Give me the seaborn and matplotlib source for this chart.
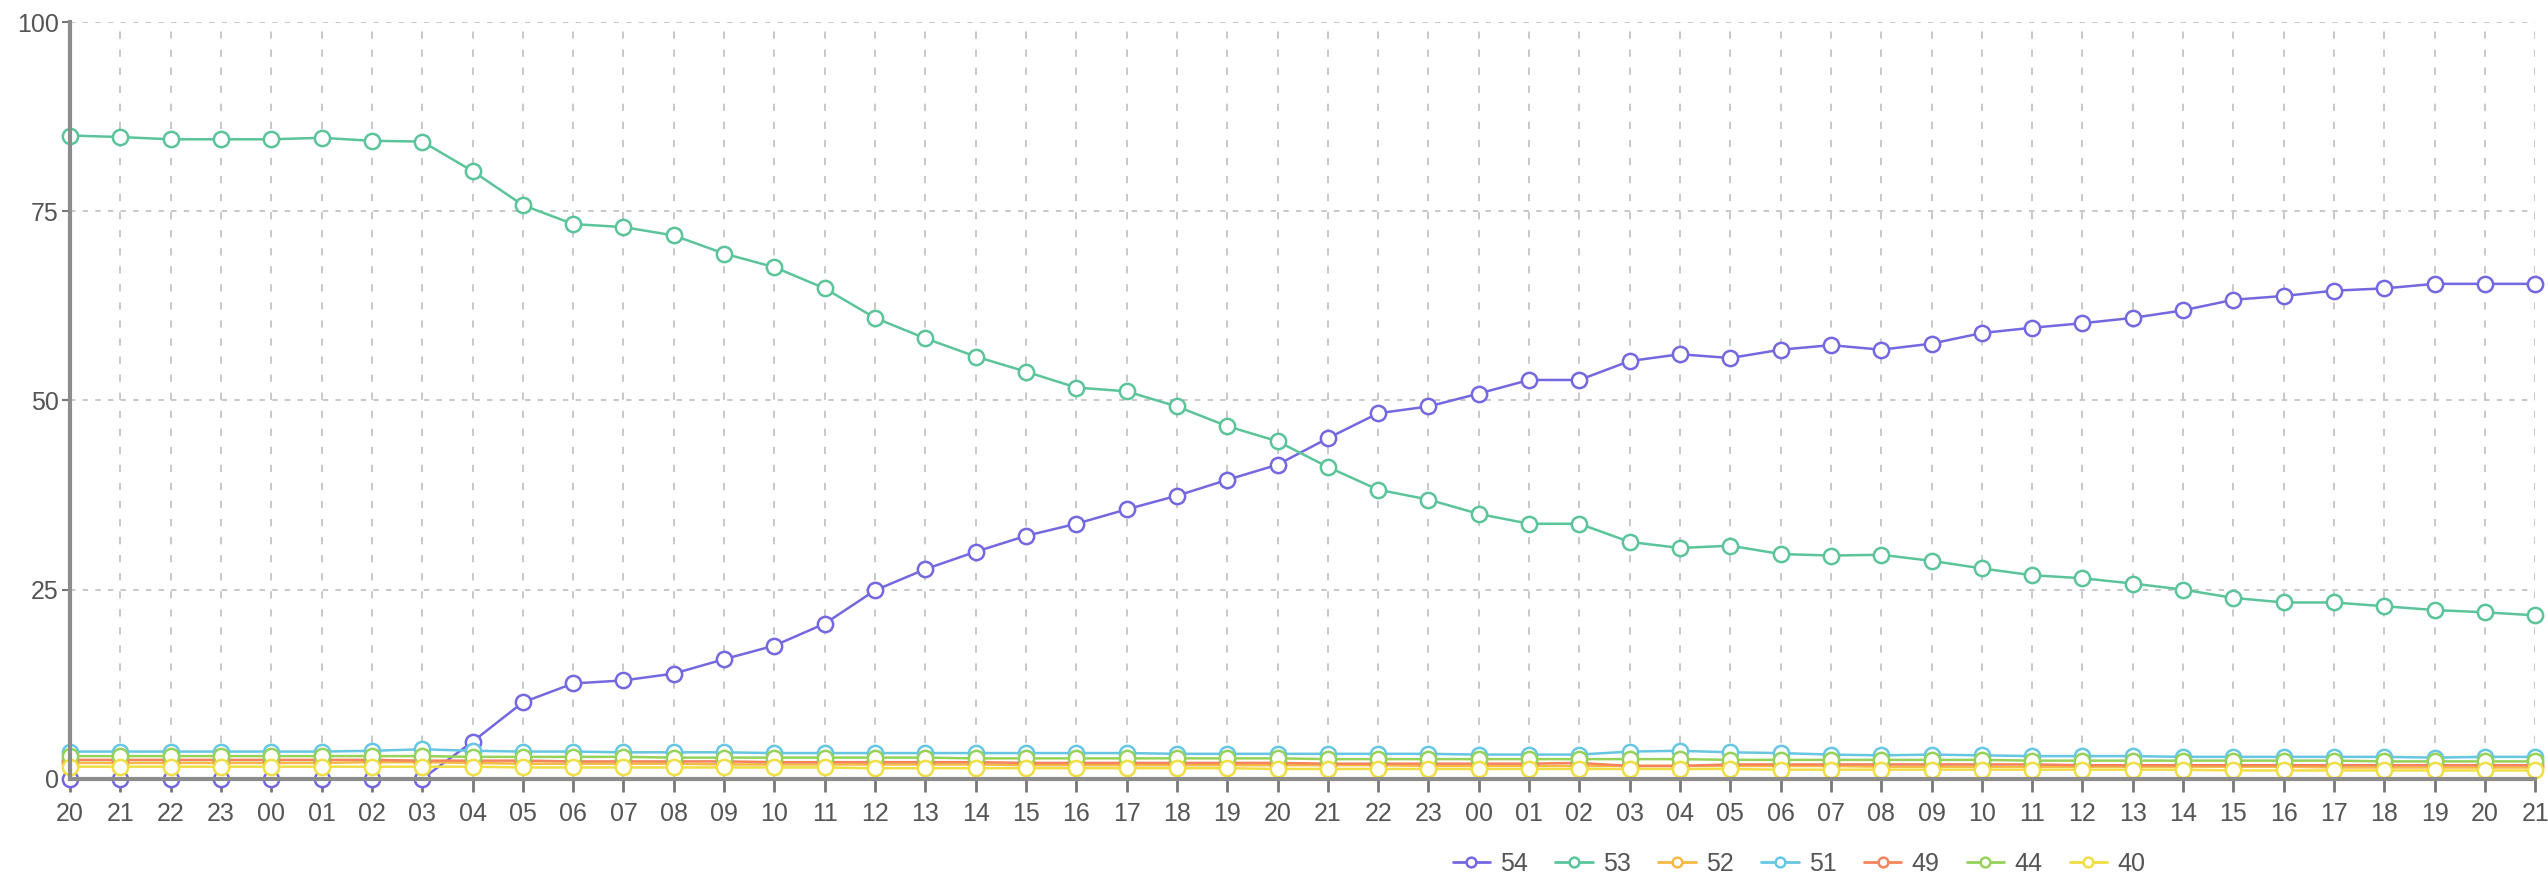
import matplotlib
matplotlib.use('Agg')
import matplotlib.pyplot as plt
from matplotlib.lines import Line2D
import seaborn as sns
import pandas as pd

# x axis: hourly samples, starting at 20h on day 1
hours = ['20', '21', '22', '23'] + ['%02d' % h for h in range(24)] + ['%02d' % h for h in range(22)]

series_names = ['54', '53', '52', '51', '49', '44', '40']
series_colors = ['#7468e0', '#5bc49b', '#f5b945', '#67c6e2', '#f5845c', '#96d25a', '#f0de45']

t54 = [0, 0, 0, 0, 0, 0, 0, 0, 4.9, 10.1, 12.6, 13.0, 13.9, 15.8, 17.6, 20.5, 24.9, 27.7, 30.0, 32.1,
       33.7, 35.6, 37.4, 39.5, 41.5, 45.0, 48.3, 49.2, 50.9, 52.7, 52.7, 55.2, 56.1, 55.6, 56.7, 57.3,
       56.7, 57.5, 58.9, 59.6, 60.2, 60.9, 61.9, 63.3, 63.8, 64.5, 64.8, 65.4, 65.4, 65.4]
t53 = [85.0, 84.8, 84.5, 84.5, 84.5, 84.7, 84.3, 84.2, 80.3, 75.8, 73.3, 72.9, 71.8, 69.4, 67.6, 64.8,
       60.9, 58.2, 55.8, 53.8, 51.7, 51.2, 49.2, 46.6, 44.6, 41.2, 38.2, 36.9, 35.0, 33.7, 33.7, 31.3,
       30.5, 30.8, 29.7, 29.5, 29.6, 28.8, 27.8, 26.9, 26.5, 25.8, 25.0, 23.9, 23.3, 23.3, 22.8, 22.3,
       22.0, 21.6]
t52 = [2.1, 2.1, 2.1, 2.1, 2.1, 2.1, 2.2, 2.2, 2.1, 2.0, 2.0, 2.0, 2.0, 1.9, 1.9, 1.9, 1.9, 1.9, 1.9,
       1.8, 1.8, 1.8, 1.8, 1.8, 1.8, 1.8, 1.8, 1.7, 1.7, 1.7, 1.7, 1.7, 1.7, 1.7, 1.7, 1.7, 1.6, 1.6,
       1.6, 1.6, 1.6, 1.6, 1.6, 1.6, 1.6, 1.5, 1.5, 1.5, 1.5, 1.5]
t51 = [3.6, 3.6, 3.6, 3.6, 3.6, 3.6, 3.7, 3.9, 3.7, 3.6, 3.6, 3.5, 3.5, 3.5, 3.4, 3.4, 3.4, 3.4, 3.4,
       3.4, 3.4, 3.4, 3.3, 3.3, 3.3, 3.3, 3.3, 3.3, 3.2, 3.2, 3.2, 3.6, 3.7, 3.5, 3.4, 3.2, 3.1, 3.2,
       3.1, 3.0, 3.0, 3.0, 2.9, 2.9, 2.9, 2.9, 2.9, 2.8, 2.9, 2.9]
t49 = [2.5, 2.5, 2.5, 2.5, 2.5, 2.5, 2.5, 2.4, 2.4, 2.4, 2.3, 2.3, 2.3, 2.3, 2.2, 2.2, 2.2, 2.2, 2.2,
       2.1, 2.1, 2.1, 2.1, 2.1, 2.1, 2.0, 2.0, 2.0, 2.0, 2.0, 2.1, 1.7, 1.7, 1.9, 1.9, 1.9, 1.9, 1.9,
       1.9, 1.9, 1.8, 1.8, 1.8, 1.8, 1.8, 1.8, 1.8, 1.8, 1.8, 1.8]
t44 = [3.0, 3.0, 3.0, 3.0, 3.0, 3.0, 3.0, 3.0, 2.9, 2.9, 2.9, 2.9, 2.8, 2.8, 2.8, 2.8, 2.8, 2.8, 2.7,
       2.7, 2.7, 2.7, 2.7, 2.7, 2.7, 2.6, 2.6, 2.6, 2.6, 2.6, 2.6, 2.6, 2.6, 2.5, 2.5, 2.5, 2.5, 2.5,
       2.5, 2.4, 2.4, 2.4, 2.4, 2.4, 2.4, 2.4, 2.3, 2.3, 2.3, 2.3]
t40 = [1.6, 1.6, 1.6, 1.6, 1.6, 1.6, 1.6, 1.6, 1.6, 1.5, 1.5, 1.5, 1.5, 1.5, 1.5, 1.5, 1.4, 1.4, 1.4,
       1.4, 1.4, 1.4, 1.4, 1.4, 1.3, 1.3, 1.3, 1.3, 1.3, 1.3, 1.3, 1.3, 1.3, 1.3, 1.2, 1.2, 1.2, 1.2,
       1.2, 1.2, 1.2, 1.2, 1.2, 1.1, 1.1, 1.1, 1.1, 1.1, 1.1, 1.1]

wide = pd.DataFrame({'54': t54, '53': t53, '52': t52, '51': t51, '49': t49, '44': t44, '40': t40})
wide['step'] = range(len(hours))
df = wide.melt(id_vars='step', var_name='series', value_name='pct')

sns.set_theme(style='white')
plt.rcParams['font.family'] = ['Liberation Sans', 'DejaVu Sans']

fig = plt.figure(figsize=(25.48, 8.8), dpi=100)
ax = fig.add_axes([0.0275, 0.115, 0.9675, 0.86])

palette = dict(zip(series_names, series_colors))
sns.lineplot(data=df, x='step', y='pct', hue='series', hue_order=series_names, palette=palette,
             marker='o', markersize=11, linewidth=1.8, errorbar=None, legend=False, ax=ax)

# hollow markers, colored rim
for line in ax.lines:
    c = line.get_color()
    line.set_markerfacecolor('white')
    line.set_markeredgecolor(c)
    line.set_markeredgewidth(1.8)
    line.set_clip_on(False)

ax.set_xlim(0, len(hours) - 1)
ax.set_ylim(0, 100)
ax.set_xticks(range(len(hours)))
ax.set_xticklabels(hours)
ax.set_yticks([0, 25, 50, 75, 100])
ax.set_xlabel('')
ax.set_ylabel('')

ax.grid(True, axis='x', linestyle=(0, (4, 6)), color='#c4c4c4', linewidth=1.3)
ax.grid(True, axis='y', linestyle=(0, (3, 4)), color='#c4c4c4', linewidth=1.3)
ax.set_axisbelow(True)

for side in ['top', 'right']:
    ax.spines[side].set_visible(False)
for side in ['left', 'bottom']:
    ax.spines[side].set_color('#8c8c8c')
    ax.spines[side].set_linewidth(3)

ax.tick_params(axis='x', direction='out', length=9, width=2, color='#777777',
               labelsize=18, labelcolor='#555555', pad=8, bottom=True)
ax.tick_params(axis='y', direction='out', length=6, width=1.5, color='#777777',
               labelsize=18, labelcolor='#555555', pad=2, left=True)

handles = [Line2D([], [], color=c, marker='o', markerfacecolor='white', markeredgecolor=c,
                  markersize=7, markeredgewidth=1.8, linewidth=2) for c in series_colors]
fig.legend(handles, series_names, loc='center', bbox_to_anchor=(0.706, 0.018), ncol=7,
           frameon=False, fontsize=18, handlelength=1.5, handletextpad=0.4, columnspacing=1.1,
           labelcolor='#555555')

plt.savefig('out.png', dpi=100)
plt.close()
